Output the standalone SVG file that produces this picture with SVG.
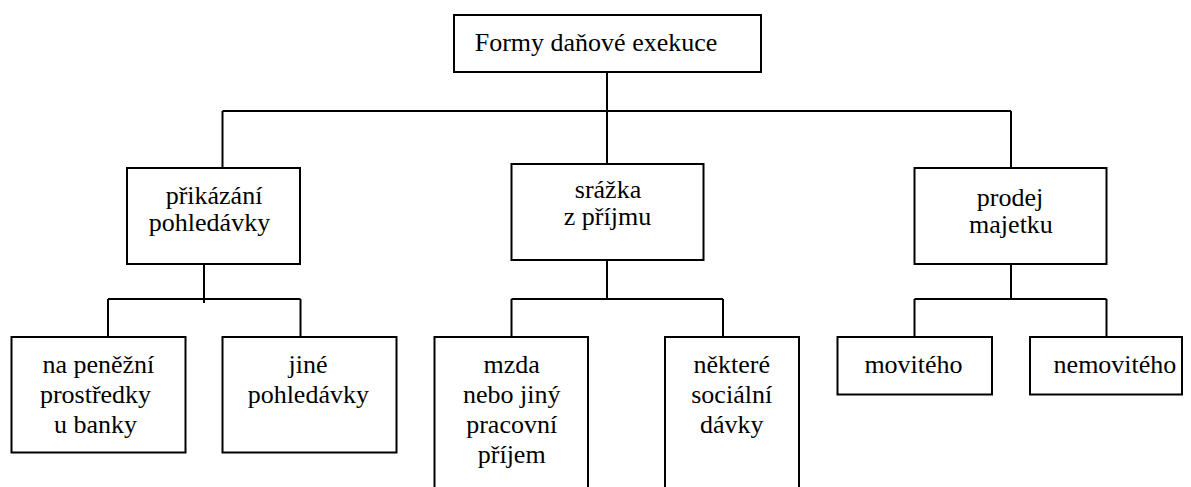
<svg xmlns="http://www.w3.org/2000/svg" width="1191" height="487" viewBox="0 0 1191 487">
<style>
.box{fill:#fff;stroke:#000;stroke-width:2}
.ln{fill:none;stroke:#000;stroke-width:2}
.t{font-size:26px;fill:#000;text-anchor:middle}
</style>
<rect width="1191" height="487" fill="#fff"/>
<g id="connectors">
<path class="ln" d="M607,72V164M222.5,111H1011M222.5,111V168M1011,111V168"/>
<path class="ln" d="M204,264V303M108,299H300.5M108,299V337M300.5,299V337"/>
<path class="ln" d="M607,260V299M511.5,299H723M511.5,299V337M723,299V337"/>
<path class="ln" d="M1011,260V299M914.5,299H1106.5M914.5,299V337M1106.5,299V337"/>
</g>
<g font-family="Liberation Serif, Tinos, Times New Roman, DejaVu Serif, serif" class="t">
<g id="root"><rect class="box" x="454" y="15" width="307" height="57"/><text x="596" y="51">Formy daňové exekuce</text></g>
<g id="prikazani"><rect class="box" x="127" y="168" width="173" height="96"/><text x="214" y="204">přikázání</text><text x="209.5" y="231">pohledávky</text></g>
<g id="srazka"><rect class="box" x="511.5" y="164" width="192" height="96"/><text x="608" y="198">srážka</text><text x="607.5" y="225">z příjmu</text></g>
<g id="prodej"><rect class="box" x="914.5" y="168" width="192" height="96"/><text x="1010" y="206">prodej</text><text x="1011" y="233">majetku</text></g>
<g id="penezni"><rect class="box" x="11.5" y="337" width="174" height="115.5"/><text x="98.4" y="373">na peněžní</text><text x="95.5" y="403">prostředky</text><text x="95.5" y="433">u banky</text></g>
<g id="jine"><rect class="box" x="222.5" y="337" width="174" height="115.5"/><text x="308" y="373">jiné</text><text x="308.3" y="403">pohledávky</text></g>
<g id="mzda"><rect class="box" x="434.5" y="337" width="153.5" height="170"/><text x="511.7" y="373">mzda</text><text x="511.7" y="403">nebo jiný</text><text x="511.7" y="433">pracovní</text><text x="511.7" y="463">příjem</text></g>
<g id="socialni"><rect class="box" x="665" y="337" width="134" height="170"/><text x="731.7" y="373">některé</text><text x="731.7" y="403">sociální</text><text x="731.7" y="433">dávky</text></g>
<g id="movite"><rect class="box" x="837.5" y="337" width="154.5" height="57.5"/><text x="913.5" y="373">movitého</text></g>
<g id="nemovite"><rect class="box" x="1030" y="337" width="152" height="57.5"/><text x="1115" y="373">nemovitého</text></g>
</g>
</svg>
